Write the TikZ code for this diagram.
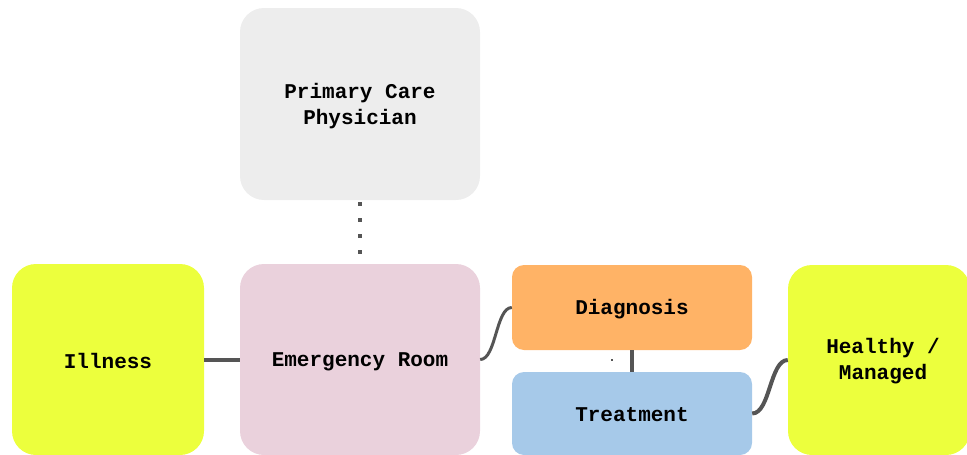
\documentclass[tikz,border=0pt]{standalone}
\usepackage{fontspec}
\setmonofont{Liberation Mono}
\begin{document}
\begin{tikzpicture}[x=1pt,y=-1pt,
  box/.style={rectangle, draw=none, inner sep=0pt},
  bigbox/.style={box, rounded corners=24pt},
  smallbox/.style={box, rounded corners=12pt},
  boxtext/.style={align=center, inner sep=0pt,
    font=\ttfamily\bfseries\fontsize{21}{26}\selectfont, text=black},
  link/.style={draw=linegray, line width=4pt},
  curvelink/.style={draw=linegray, line width=3pt},
  dotlink/.style={draw=linegray, line width=4pt, dash pattern=on 4pt off 12pt}]
\definecolor{linegray}{HTML}{555555}
\definecolor{pcpgray}{HTML}{EDEDED}
\definecolor{lime}{HTML}{ECFF3D}
\definecolor{pinkish}{HTML}{EAD1DC}
\definecolor{orangeish}{HTML}{FFB366}
\definecolor{blueish}{HTML}{A6C9E9}
\useasboundingbox (0,0) rectangle (967,455);
% boxes
\begin{scope}
\clip (0,0) rectangle (967,455);
\node[bigbox, fill=pcpgray, minimum width=240pt, minimum height=192pt] (pcp) at (360,104) {};
\node[bigbox, fill=lime, minimum width=192pt, minimum height=191pt] (ill) at (108,359.5) {};
\node[bigbox, fill=pinkish, minimum width=240pt, minimum height=191pt] (er) at (360,359.5) {};
\node[smallbox, fill=orangeish, minimum width=240pt, minimum height=85pt] (diag) at (632,307.5) {};
\node[smallbox, fill=blueish, minimum width=240pt, minimum height=83pt] (treat) at (632,413.5) {};
\node[bigbox, fill=lime, minimum width=182pt, minimum height=190pt] (heal) at (879,360) {};
\end{scope}
% labels
\node[boxtext] (pcpt) at ([yshift=-2.5pt]pcp.center) {Primary Care\\Physician};
\node[boxtext] (illt) at ([yshift=-1.5pt]ill.center) {Illness};
\node[boxtext] (ert) at ([yshift=-2.5pt]er.center) {Emergency Room};
\node[boxtext] (diagt) at ([yshift=-1.5pt]diag.center) {Diagnosis};
\node[boxtext] (treatt) at ([yshift=-1.5pt]treat.center) {Treatment};
\node[boxtext] (healt) at ([xshift=4pt,yshift=-1.5pt]heal.center) {Healthy /\\Managed};
% connectors
\coordinate (dotend) at ([yshift=10pt]er.north);
\draw[link] (ill.east) -- (er.west);
\draw[dotlink] ([yshift=-2pt]pcp.south) -- (dotend);
\draw[curvelink] (er.east) .. controls +(16,0) and +(-16,0) .. (diag.west);
\draw[link] (diag.south) -- (treat.north);
\draw[link] (treat.east) .. controls +(18,0) and +(-18,0) .. (heal.west);
\fill[linegray] (611,359) rectangle (613,361);
\end{tikzpicture}
\end{document}
